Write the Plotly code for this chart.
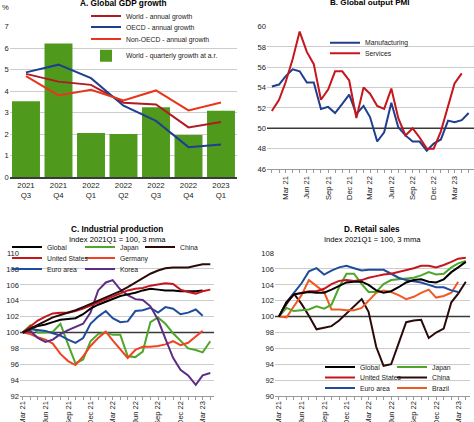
import plotly.graph_objects as go
import pandas as pd

# ---------------- Panel A: Global GDP growth ----------------
quarters = ["2021<br>Q3", "2021<br>Q4", "2022<br>Q1", "2022<br>Q2", "2022<br>Q3", "2022<br>Q4", "2023<br>Q1"]
world_quarterly_ar = [3.53, 6.22, 2.05, 2.00, 3.25, 1.96, 3.08]
world_annual = [4.80, 4.44, 4.29, 3.46, 3.38, 2.31, 2.56]
oecd_annual = [4.87, 5.23, 4.60, 3.32, 2.61, 1.39, 1.51]
non_oecd_annual = [4.70, 3.80, 4.06, 3.56, 4.03, 3.10, 3.47]
gdp_ticks = [0, 1, 2, 3, 4, 5, 6, 7]

# ---------------- Panel B: Global output PMI ----------------
pmi_start = "2021-01-01"
pmi_manufacturing = [54.1, 54.3, 55.1, 55.8, 55.6, 54.5, 54.5, 51.9, 52.1, 51.5, 52.4, 53.3,
                     51.4, 52.2, 51.1, 48.7, 49.6, 52.5, 50.1, 49.3, 48.7, 48.7, 47.8, 48.5,
                     48.9, 50.75, 50.6, 50.8, 51.5]
pmi_services = [51.7, 52.8, 54.5, 56.8, 59.5, 57.5, 56.3, 52.8, 53.8, 55.6, 55.6, 54.7,
                51.0, 54.0, 53.4, 52.2, 51.9, 53.9, 51.0, 49.3, 50.0, 49.1, 48.0, 48.0,
                49.7, 52.2, 54.4, 55.4]
pmi_ticks = [46, 48, 50, 52, 54, 56, 58, 60]
pmi_ref = 50

# ---------------- Panel C: Industrial production ----------------
ip_start = "2021-03-01"
ip_global = [100, 100.5, 100.8, 101.0, 101.3, 101.6, 101.7, 101.8, 102.3, 103.0, 103.5, 103.9,
             104.2, 104.6, 104.8, 105.0, 105.3, 105.5, 105.4, 105.3, 105.3, 105.2, 105.2, 105.2, 105.3]
ip_us = [100, 100.8, 101.5, 102.0, 102.4, 102.5, 102.5, 102.7, 103.0, 103.4, 103.8, 104.2,
         104.5, 104.9, 105.3, 105.5, 105.6, 105.9, 106.1, 106.2, 106.1, 105.4, 105.1, 104.9, 105.2, 105.4]
ip_euro = [100, 100.4, 100.3, 100.2, 99.9, 99.6, 99.1, 98.7, 99.3, 101.1, 102.0, 102.7,
           101.8, 101.3, 101.4, 102.7, 102.8, 103.1, 102.5, 103.2, 103.0, 102.3, 102.5, 102.9, 102.1]
ip_japan = [100, 100.9, 100.0, 100.0, 100.1, 101.1, 98.5, 96.1, 96.6, 98.9, 99.8, 100.0,
            99.7, 99.7, 97.0, 96.9, 97.6, 101.3, 101.9, 101.1, 99.9, 99.0, 98.0, 97.8, 97.5, 98.9]
ip_germany = [100, 99.8, 99.4, 99.1, 98.6, 97.3, 96.4, 95.9, 97.0, 98.3, 99.3, 100.1,
              99.0, 97.9, 96.8, 97.8, 98.2, 98.2, 98.3, 98.5, 98.9, 98.4, 98.7, 99.5, 100.2]
ip_korea = [100, 100.2, 99.3, 98.8, 99.1, 99.8, 100.3, 100.7, 101.1, 102.5, 105.3, 106.3,
            106.6, 105.4, 104.7, 104.2, 104.1, 103.3, 101.6, 99.2, 96.8, 95.3, 94.6, 93.4, 94.6, 94.9]
ip_china = [100, 100.5, 101.0, 101.5, 101.9, 102.2, 102.5, 102.8, 103.2, 103.6, 104.0, 104.4,
            104.8, 105.2, 105.7, 106.3, 106.9, 107.4, 107.8, 108.1, 108.2, 108.2, 108.2, 108.4, 108.6, 108.6]
ip_ticks = [92, 94, 96, 98, 100, 102, 104, 106, 108, 110]

# ---------------- Panel D: Retail sales ----------------
rs_start = "2021-03-01"
rs_global = [100, 101.8, 102.8, 103.0, 103.1, 103.0, 103.0, 103.4, 103.9, 104.3, 104.4, 104.4,
             104.0, 103.3, 103.0, 103.2, 103.7, 104.3, 104.6, 104.7, 104.4, 104.3, 104.7, 105.6, 106.2, 106.9]
rs_us = [100, 101.8, 102.8, 103.0, 103.2, 103.2, 103.5, 104.1, 104.5, 104.6, 104.5, 104.6,
         104.9, 105.1, 105.3, 105.4, 105.6, 105.8, 106.1, 106.4, 106.4, 106.2, 106.5, 106.9, 107.3, 107.4]
rs_euro = [100, 101.8, 103.0, 104.2, 105.7, 106.1, 105.3, 105.8, 106.2, 106.4, 106.1, 105.8,
           105.9, 105.9, 105.9, 105.4, 104.9, 104.6, 104.4, 104.3, 104.0, 103.7, 103.7, 103.3, 103.1]
rs_japan = [100, 101.1, 100.7, 100.8, 100.9, 101.3, 101.0, 101.5, 103.7, 105.4, 105.4, 104.1,
            103.1, 103.1, 104.1, 104.6, 104.7, 104.8, 104.9, 105.2, 105.6, 105.3, 105.4, 106.2, 106.7, 107.0]
rs_china = [100, 101.6, 102.9, 101.6, 100.1, 98.4, 98.6, 98.8, 99.5, 100.4, 101.3, 102.2,
            100.6, 96.2, 93.8, 94.0, 96.6, 99.3, 99.5, 99.6, 97.3, 98.0, 98.5, 101.8, 102.9, 104.4]
rs_brazil = [100, 99.9, 101.3, 102.7, 104.6, 103.9, 103.1, 100.9, 100.9, 100.8, 100.8, 101.1,
             102.0, 103.0, 103.3, 103.1, 102.7, 102.2, 102.5, 103.0, 103.4, 102.4, 102.6, 103.0, 104.4]
rs_ticks = [90, 92, 94, 96, 98, 100, 102, 104, 106, 108]
index_ref = 100


def months(start, n):
    return pd.date_range(start, periods=n, freq="MS")


W, H = 474, 422
FONT = "Liberation Sans, Arial, sans-serif"
TXT = "#222222"
GRID = "#cccccc"
DARK = "#3a3a3a"


def px(x):
    return x / W


def py(y):
    return 1 - y / H


fig = go.Figure()

# ---- colours
C_WORLD = "#b01a22"
C_OECD = "#1f3e8e"
C_NONOECD = "#e8361e"
C_BAR = "#4f9a1c"
C_GLOBAL = "#000000"
C_US = "#c4161c"
C_EURO = "#1f4c9c"
C_JAPAN = "#4ea72a"
C_GER = "#ee4424"
C_KOREA = "#5c2d83"
C_CHINA = "#2b0a0a"
C_BRAZIL = "#f05a22"

LW = 2

# ---- Panel A
fig.add_trace(go.Bar(x=quarters, y=world_quarterly_ar, marker_color=C_BAR, marker_line_width=0,
                     name="World - quarterly growth at a.r.", xaxis="x", yaxis="y", legend="legend4"))
fig.add_trace(go.Scatter(x=quarters, y=world_annual, mode="lines", line=dict(color=C_WORLD, width=LW),
                         name="World - annual growth", xaxis="x", yaxis="y", legend="legend"))
fig.add_trace(go.Scatter(x=quarters, y=oecd_annual, mode="lines", line=dict(color=C_OECD, width=LW),
                         name="OECD - annual growth", xaxis="x", yaxis="y", legend="legend2"))
fig.add_trace(go.Scatter(x=quarters, y=non_oecd_annual, mode="lines", line=dict(color=C_NONOECD, width=LW),
                         name="Non-OECD - annual growth", xaxis="x", yaxis="y", legend="legend3"))

# ---- Panel B
fig.add_trace(go.Scatter(x=months(pmi_start, len(pmi_manufacturing)), y=pmi_manufacturing, mode="lines",
                         line=dict(color=C_OECD, width=LW), name="Manufacturing",
                         xaxis="x2", yaxis="y2", legend="legend5"))
fig.add_trace(go.Scatter(x=months(pmi_start, len(pmi_services)), y=pmi_services, mode="lines",
                         line=dict(color=C_US, width=LW), name="Services",
                         xaxis="x2", yaxis="y2", legend="legend6"))

# ---- Panel C
ip_series = [
    ("Japan", ip_japan, C_JAPAN, "legend10"),
    ("Germany", ip_germany, C_GER, "legend11"),
    ("Euro area", ip_euro, C_EURO, "legend9"),
    ("Korea", ip_korea, C_KOREA, "legend12"),
    ("Global", ip_global, C_GLOBAL, "legend7"),
    ("United States", ip_us, C_US, "legend8"),
    ("China", ip_china, C_CHINA, "legend13"),
]
for name, vals, col, leg in ip_series:
    fig.add_trace(go.Scatter(x=months(ip_start, len(vals)), y=vals, mode="lines",
                             line=dict(color=col, width=LW), name=name,
                             xaxis="x3", yaxis="y3", legend=leg))

# ---- Panel D
rs_series = [
    ("China", rs_china, C_CHINA, "legend18"),
    ("Brazil", rs_brazil, C_BRAZIL, "legend19"),
    ("Japan", rs_japan, C_JAPAN, "legend17"),
    ("Euro area", rs_euro, C_EURO, "legend16"),
    ("United States", rs_us, C_US, "legend15"),
    ("Global", rs_global, C_GLOBAL, "legend14"),
]
for name, vals, col, leg in rs_series:
    fig.add_trace(go.Scatter(x=months(rs_start, len(vals)), y=vals, mode="lines",
                             line=dict(color=col, width=LW), name=name,
                             xaxis="x4", yaxis="y4", legend=leg))

tickfont = dict(family=FONT, size=7.6, color=TXT)


def yaxis_with_ref(ticks, ref):
    # labels on every tick; light grid on all but the reference level (drawn darker)
    grid_vals = [t for t in ticks if t != ref]
    return dict(tickvals=ticks, showgrid=False, zeroline=False, showline=False, ticks="",
                tickfont=tickfont, fixedrange=True, automargin=False,
                minor=dict(tickvals=grid_vals, showgrid=True, gridcolor=GRID, gridwidth=1, ticks=""))


def date_xaxis(standoff):
    return dict(type="date", tickformat="%b %y", tickangle=-90, dtick="M3", tick0="2021-03-01",
                showgrid=False, zeroline=False, showline=True, linecolor="#999999", linewidth=1,
                ticks="outside", ticklen=3, tickcolor="#999999", tickfont=tickfont, automargin=False,
                ticklabelstandoff=standoff,
                minor=dict(dtick="M1", ticks="outside", ticklen=3, tickcolor="#999999", showgrid=False))


layout = dict(
    width=W, height=H, margin=dict(l=0, r=0, t=0, b=0, autoexpand=False),
    paper_bgcolor="white", plot_bgcolor="white",
    font=dict(family=FONT, color=TXT, size=7.6),
    bargap=0.14,
    xaxis=dict(domain=[px(9.75), px(237.25)], anchor="y", type="category", range=[-0.5, 6.5],
               showgrid=False, zeroline=False, showline=True, linecolor=DARK, linewidth=1.5,
               ticks="", tickfont=dict(family=FONT, size=7.8, color=TXT), fixedrange=True, automargin=False),
    yaxis=dict(domain=[py(177), py(26)], anchor="x", range=[0, 7.03], tickvals=gdp_ticks,
               showgrid=True, gridcolor=GRID, gridwidth=1, zeroline=False, showline=False,
               ticks="", tickfont=tickfont, fixedrange=True, automargin=False),
    xaxis2=dict(domain=[px(267), 1.0], anchor="y2", range=["2020-12-11", "2023-05-24"], **date_xaxis(0)),
    yaxis2=dict(domain=[py(169), py(26)], anchor="x2", range=[46, 60.05], **yaxis_with_ref(pmi_ticks, pmi_ref)),
    xaxis3=dict(domain=[px(20), px(214)], anchor="y3", range=["2021-02-18", "2023-04-16"], **date_xaxis(-2)),
    yaxis3=dict(domain=[py(396), py(252.7)], anchor="x3", range=[92, 110.05], **yaxis_with_ref(ip_ticks, index_ref)),
    xaxis4=dict(domain=[px(275), px(470)], anchor="y4", range=["2021-02-13", "2023-04-18"], **date_xaxis(-2)),
    yaxis4=dict(domain=[py(396), py(252.7)], anchor="x4", range=[90, 108.05], **yaxis_with_ref(rs_ticks, index_ref)),
    shapes=[
        dict(type="line", xref="x2 domain", yref="y2", x0=0, x1=1, y0=pmi_ref, y1=pmi_ref,
             line=dict(color=DARK, width=1.5), layer="below"),
        dict(type="line", xref="x3 domain", yref="y3", x0=0, x1=1, y0=index_ref, y1=index_ref,
             line=dict(color=DARK, width=1.5), layer="below"),
        dict(type="line", xref="x4 domain", yref="y4", x0=0, x1=1, y0=index_ref, y1=index_ref,
             line=dict(color=DARK, width=1.5), layer="below"),
    ],
    annotations=[
        dict(text="<b>A. Global GDP growth</b>", x=px(123), y=py(3), xref="paper", yref="paper",
             showarrow=False, xanchor="center", yanchor="middle", font=dict(size=8.3, family=FONT, color="#000")),
        dict(text="%", x=px(0), y=py(8), xref="paper", yref="paper",
             showarrow=False, xanchor="left", yanchor="middle", font=dict(size=7.6, family=FONT, color=TXT)),
        dict(text="<b>B. Global output PMI</b>", x=px(370), y=py(2.5), xref="paper", yref="paper",
             showarrow=False, xanchor="center", yanchor="middle", font=dict(size=8.1, family=FONT, color="#000")),
        dict(text="<b>C. Industrial production</b>", x=px(117), y=py(230), xref="paper", yref="paper",
             showarrow=False, xanchor="center", yanchor="middle", font=dict(size=8.2, family=FONT, color="#000")),
        dict(text="Index 2021Q1 = 100, 3 mma", x=px(117), y=py(239.5), xref="paper", yref="paper",
             showarrow=False, xanchor="center", yanchor="middle", font=dict(size=7.6, family=FONT, color="#000")),
        dict(text="<b>D. Retail sales</b>", x=px(372), y=py(230), xref="paper", yref="paper",
             showarrow=False, xanchor="center", yanchor="middle", font=dict(size=8.2, family=FONT, color="#000")),
        dict(text="Index 2021Q1 = 100, 3 mma", x=px(372), y=py(239.8), xref="paper", yref="paper",
             showarrow=False, xanchor="center", yanchor="middle", font=dict(size=7.6, family=FONT, color="#000")),
    ],
)

# one legend per entry, placed like the original key
legend_pos = {
    "legend": (86, 16), "legend2": (86, 27), "legend3": (86, 39), "legend4": (86, 55.7),
    "legend5": (325, 42.7), "legend6": (325, 53.3),
    "legend7": (7, 247), "legend8": (7, 258), "legend9": (7, 269),
    "legend10": (80, 247), "legend11": (80, 258), "legend12": (80, 269),
    "legend13": (140, 247),
    "legend14": (320, 367), "legend15": (320, 377.5), "legend16": (320, 388),
    "legend17": (392, 367), "legend18": (392, 377.5), "legend19": (392, 388),
}
for key, (lx, ly) in legend_pos.items():
    layout[key] = dict(x=px(lx), y=py(ly), xanchor="left", yanchor="middle", xref="paper", yref="paper",
                       bgcolor="rgba(0,0,0,0)", borderwidth=0, itemwidth=30,
                       font=dict(family=FONT, size=6.8, color=TXT))

fig.update_layout(**layout)
fig.update_layout(showlegend=True)

# the page's default 8px body margin would shift the figure; remove it
fig.write_html("out.html", config={"displayModeBar": False},
               post_script="document.body.style.margin='0px';document.body.style.overflow='hidden';")
